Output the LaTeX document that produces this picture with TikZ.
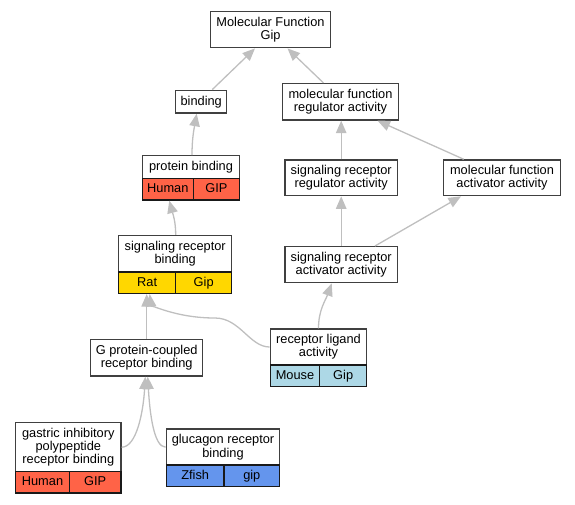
\documentclass[tikz,border=0pt]{standalone}
\usepackage{fontspec}
\setmainfont{Liberation Sans}
\usetikzlibrary{arrows.meta}
\definecolor{human}{HTML}{FF6347}
\definecolor{rat}{HTML}{FFD700}
\definecolor{mouse}{HTML}{ADD8E6}
\definecolor{zfish}{HTML}{6495ED}
\newcommand{\termfont}{\fontsize{12.8pt}{13.2pt}\selectfont}

\begin{document}
\begin{tikzpicture}[x=1pt,y=-1pt,
    term/.style={draw=black!75, line width=1.4pt, fill=white, inner sep=0pt, align=center, font=\termfont},
    cell/.style={term, draw=black!90, minimum height=21.3pt, text height=9.2pt, text depth=2.6pt},
    isa/.style={draw=black!25, line width=1.3pt, -{Triangle[length=12.5pt,width=10.5pt]}}]
  \useasboundingbox (0,0) rectangle (575,504);
  % GO terms
  \node[term, minimum width=120.4pt, minimum height=36pt] (mf) at (270.5,29.7) {Molecular Function\\Gip};
  \node[term, minimum width=51pt, minimum height=22.7pt] (bind) at (201.2,101.7) {binding};
  \node[term, minimum width=116.4pt, minimum height=36.3pt] (mfreg) at (340.5,101.8) {molecular function\\regulator activity};
  \node[term, minimum width=97.4pt, minimum height=23pt] (pb) at (191,167.2) {protein binding};
  \node[term, minimum width=112.3pt, minimum height=35.7pt] (srra) at (341.2,177.8) {signaling receptor\\regulator activity};
  \node[term, minimum width=116.6pt, minimum height=35.7pt] (mfact) at (502,177.8) {molecular function\\activator activity};
  \node[term, minimum width=113pt, minimum height=36.3pt] (srb) at (175.2,253.8) {signaling receptor\\binding};
  \node[term, minimum width=112.3pt, minimum height=36pt] (sraa) at (341.2,264.7) {signaling receptor\\activator activity};
  \node[term, minimum width=112pt, minimum height=36.3pt] (gpcr) at (146.7,357.8) {G protein-coupled\\receptor binding};
  \node[term, minimum width=96.4pt, minimum height=36pt] (rla) at (318.5,347) {receptor ligand\\activity};
  \node[term, minimum width=105.3pt, minimum height=49pt] (gast) at (68.3,447.2) {gastric inhibitory\\polypeptide\\receptor binding};
  \node[term, minimum width=113.4pt, minimum height=36.3pt] (gluc) at (223,447.2) {glucagon receptor\\binding};
  % species / gene cells under the annotated terms
  \foreach \n/\x/\y/\w/\c/\t in {pbh/167.8/189.3/51/human/Human, pbg/216.5/189.3/46.4/human/GIP,
      srbl/147.2/282.7/57/rat/Rat, srbr/203.7/282.7/56/rat/Gip,
      rlal/295/375.8/49.4/mouse/Mouse, rlar/343.2/375.8/47/mouse/Gip,
      gastl/42.5/482.3/53.6/human/Human, gastr/95.2/482.3/51.7/human/GIP,
      glucl/195.2/475.8/57.7/zfish/Zfish, glucr/251.8/475.8/55.7/zfish/gip}
    \node[cell, fill=\c, minimum width=\w pt] (\n) at (\x,\y) {\t};
  % is_a links
  \coordinate (rlabend) at (215,318);
  \draw[isa] ([xshift=11pt]bind.north) -- ([xshift=-15.5pt]mf.south);
  \draw[isa] ([xshift=-17pt]mfreg.north) -- ([xshift=17pt]mf.south);
  \draw[isa] ([xshift=1pt]pb.north) to[out=90,in=-100] ([xshift=-4.5pt]bind.south);
  \draw[isa] (srra.north) -- (srra.north |- mfreg.south);
  \draw[isa] ([xshift=-38.3pt]mfact.north) -- ([xshift=37pt]mfreg.south);
  \draw[isa] ([xshift=0.5pt]srb.north) to[out=90,in=-75] ([xshift=1.5pt]pbh.south);
  \draw[isa] (sraa.north) -- (sraa.north |- srra.south);
  \draw[isa] ([xshift=33.8pt]sraa.north) -- ([xshift=-41pt]mfact.south);
  \draw[isa] (gpcr.north) -- (gpcr.north |- srbl.south);
  \draw[isa] (rla.west) .. controls +(-20,0) and +(25,0) .. (rlabend) .. controls +(-40,0) and +(1,10) .. ([xshift=2.5pt]srbl.south);
  \draw[isa] (rla.north) to[out=90,in=-110] ([xshift=-9.5pt]sraa.south);
  \draw[isa] (gast.east) .. controls +(15,0) and +(-2,35) .. ([xshift=-1.4pt]gpcr.south);
  \draw[isa] (gluc.west) .. controls +(-12,0) and +(2,35) .. ([xshift=1pt]gpcr.south);
\end{tikzpicture}
\end{document}
